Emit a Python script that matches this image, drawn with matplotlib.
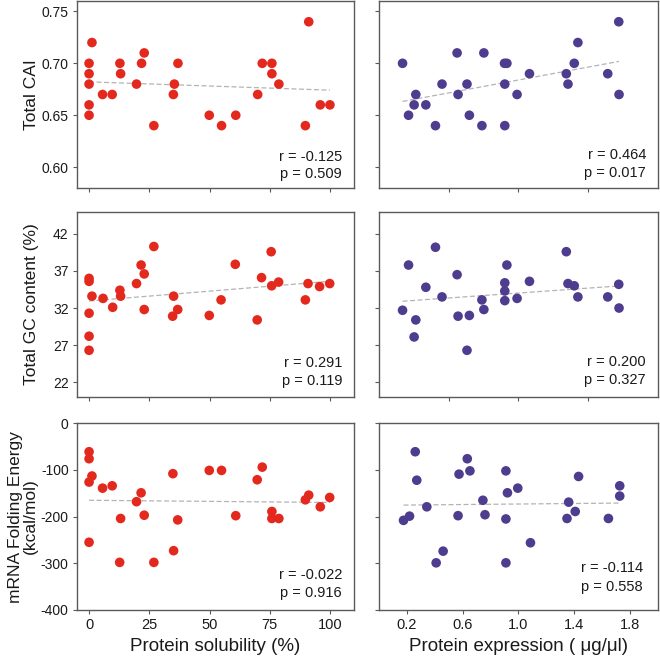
import numpy as np
import matplotlib
matplotlib.use("Agg")
import matplotlib.pyplot as plt

plt.rcParams['font.family'] = ['Liberation Sans', 'DejaVu Sans']

RED = '#e3291e'
PURPLE = '#4e3d8f'

# ---- data ----
# Row 1: Total CAI
cai_sol_x = [0, 0, 0, 0, 0, 1.2, 5.6, 9.6, 12.8, 13.1, 19.7, 21.8, 22.9, 26.9, 35.0,
             35.4, 36.9, 49.9, 55.0, 60.9, 70.0, 71.9, 75.9, 75.9, 78.8, 89.8, 91.2, 96.0, 100]
cai_sol_y = [0.70, 0.69, 0.68, 0.66, 0.65, 0.72, 0.67, 0.67, 0.70, 0.69, 0.68, 0.70, 0.71, 0.64, 0.67,
             0.68, 0.70, 0.65, 0.64, 0.65, 0.67, 0.70, 0.70, 0.69, 0.68, 0.64, 0.74, 0.66, 0.66]
cai_exp_x = [0.169, 0.212, 0.264, 0.252, 0.336, 0.405, 0.452, 0.560, 0.567, 0.631, 0.648, 0.738, 0.752,
             0.900, 0.917, 0.902, 0.902, 0.990, 1.079, 1.343, 1.355, 1.400, 1.426, 1.640, 1.719, 1.721]
cai_exp_y = [0.70, 0.65, 0.67, 0.66, 0.66, 0.64, 0.68, 0.71, 0.67, 0.68, 0.65, 0.64, 0.71,
             0.70, 0.70, 0.68, 0.64, 0.67, 0.69, 0.69, 0.68, 0.70, 0.72, 0.69, 0.74, 0.67]

# Row 2: Total GC content
gc_sol_x = [0, 0, 0, 0, 0, 1.2, 5.8, 9.8, 12.8, 13.1, 19.7, 21.6, 22.9, 22.9, 26.9,
            34.7, 35.1, 36.8, 49.9, 54.8, 60.7, 69.8, 71.6, 75.6, 75.8, 78.7, 89.8, 90.9, 95.7, 99.9]
gc_sol_y = [36.0, 35.6, 31.3, 28.2, 26.3, 33.6, 33.3, 32.1, 34.4, 33.6, 35.3, 37.8, 36.6, 31.8, 40.3,
            30.9, 33.6, 31.8, 31.0, 33.1, 37.9, 30.4, 36.1, 39.6, 35.0, 35.5, 33.1, 35.3, 34.9, 35.3]
gc_exp_x = [0.169, 0.212, 0.264, 0.252, 0.336, 0.405, 0.452, 0.560, 0.567, 0.631, 0.648, 0.738, 0.752,
            0.902, 0.902, 0.917, 0.902, 0.990, 1.079, 1.343, 1.355, 1.400, 1.426, 1.640, 1.719, 1.721]
gc_exp_y = [31.7, 37.8, 30.4, 28.1, 34.8, 40.2, 33.5, 36.5, 30.9, 26.3, 31.0, 33.1, 31.8,
            35.4, 34.3, 37.8, 33.0, 33.3, 35.6, 39.6, 35.3, 35.0, 33.5, 33.5, 35.2, 32.0]

# Row 3: mRNA folding energy
mfe_sol_x = [0, 0, 0, 0, 1.2, 5.6, 9.6, 13.1, 12.7, 19.7, 21.6, 22.9, 26.9, 34.8,
             35.1, 36.8, 49.9, 55.0, 60.9, 69.8, 71.9, 75.9, 75.9, 78.8, 89.8, 91.2, 96.0, 99.9]
mfe_sol_y = [-61, -76, -126, -255, -113, -139, -134, -204, -298, -168, -149, -197, -298, -108,
             -273, -207, -101, -101, -198, -121, -94, -189, -204, -204, -164, -154, -179, -159]
mfe_exp_x = [0.176, 0.219, 0.260, 0.271, 0.343, 0.410, 0.460, 0.567, 0.574, 0.633, 0.652, 0.745, 0.760,
             0.910, 0.921, 0.910, 0.910, 0.995, 1.086, 1.348, 1.360, 1.407, 1.431, 1.645, 1.726, 1.726]
mfe_exp_y = [-208, -199, -61, -122, -179, -299, -274, -198, -109, -76, -102, -165, -196,
             -102, -149, -205, -299, -139, -256, -204, -169, -189, -114, -204, -156, -134]

stats = [('r = -0.125', 'p = 0.509'), ('r = 0.464', 'p = 0.017'),
         ('r = 0.291', 'p = 0.119'), ('r = 0.200', 'p = 0.327'),
         ('r = -0.022', 'p = 0.916'), ('r = -0.114', 'p = 0.558')]

row_labels = ['Total CAI', 'Total GC content (%)', 'mRNA Folding Energy\n(kcal/mol)']
row_ylims = [(0.58, 0.76), (20, 45), (-400, 0)]
row_yticks = [[0.60, 0.65, 0.70, 0.75], [22, 27, 32, 37, 42], [-400, -300, -200, -100, 0]]
row_yfmt = ['{:.2f}', '{:d}', '{:d}']

panels = [
    (cai_sol_x, cai_sol_y, cai_exp_x, cai_exp_y),
    (gc_sol_x, gc_sol_y, gc_exp_x, gc_exp_y),
    (mfe_sol_x, mfe_sol_y, mfe_exp_x, mfe_exp_y),
]

# axes boxes in figure fractions
col_x = [(0.1167, 0.4197), (0.5742, 0.4227)]
row_y = [(0.7152, 0.2833), (0.3985, 0.2808), (0.0758, 0.2829)]
# vertical positions (axes fraction) of the r / p lines
text_y = [[(0.166, 0.075), (0.176, 0.082)],
          [(0.184, 0.086), (0.190, 0.092)],
          [(0.187, 0.091), (0.225, 0.123)]]
text_x = [[0.957, 0.957], [0.957, 0.957], [0.957, 0.946]]
label_x = [-0.165, -0.165, -0.195]

fig = plt.figure(figsize=(6.6, 6.6), dpi=100)

for r, (sx, sy, ex, ey) in enumerate(panels):
    for c, (xs, ys, color) in enumerate([(sx, sy, RED), (ex, ey, PURPLE)]):
        ax = fig.add_axes([col_x[c][0], row_y[r][0], col_x[c][1], row_y[r][1]])
        xs = np.array(xs, dtype=float)
        ys = np.array(ys, dtype=float)
        ax.scatter(xs, ys, s=48, color=color, edgecolors='none', zorder=3)
        # least-squares trend line
        k, b = np.polyfit(xs, ys, 1)
        lx = np.array([xs.min(), xs.max()])
        ax.plot(lx, k * lx + b, color='#b4b4b4', lw=0.9, dashes=(4, 2), zorder=2)

        ax.set_ylim(*row_ylims[r])
        ax.set_yticks(row_yticks[r])
        if c == 0:
            ax.set_xlim(-5, 110)
            ax.set_xticks([0, 25, 50, 75, 100])
            ax.set_yticklabels([row_yfmt[r].format(v) for v in row_yticks[r]])
            ax.text(label_x[r], 0.5, row_labels[r], transform=ax.transAxes, rotation=90,
                    ha='center', va='center', fontsize=12.5, color='#1a1a1a',
                    linespacing=1.05)
        else:
            ax.set_xlim(0, 2.0)
            if r == 2:
                ax.set_xticks([0.2, 0.6, 1.0, 1.4, 1.8])
            else:
                ax.set_xticks([0.5, 1.0, 1.5])
            ax.set_yticklabels([])
        if r < 2:
            ax.set_xticklabels([])

        for sp in ax.spines.values():
            sp.set_color('#5a5a5a')
            sp.set_linewidth(1.0)
        ax.tick_params(direction='out', length=3, width=0.8, color='#5a5a5a',
                       labelsize=10.5, labelcolor='#1a1a1a', pad=3)
        ax.tick_params(axis='y', labelsize=10)

        rt, pt = stats[r * 2 + c]
        ax.text(text_x[r][c], text_y[r][c][0], rt, transform=ax.transAxes,
                ha='right', va='center', fontsize=10.5, color='#1a1a1a')
        ax.text(text_x[r][c], text_y[r][c][1], pt, transform=ax.transAxes,
                ha='right', va='center', fontsize=10.5, color='#1a1a1a')

        if r == 2:
            if c == 0:
                ax.set_xlabel('Protein solubility (%)', fontsize=13.5, color='#1a1a1a')
            else:
                ax.set_xlabel('Protein expression ( \u03bcg/\u03bcl)', fontsize=13.5, color='#1a1a1a')

fig.savefig('out.png', dpi=100, facecolor='white')
